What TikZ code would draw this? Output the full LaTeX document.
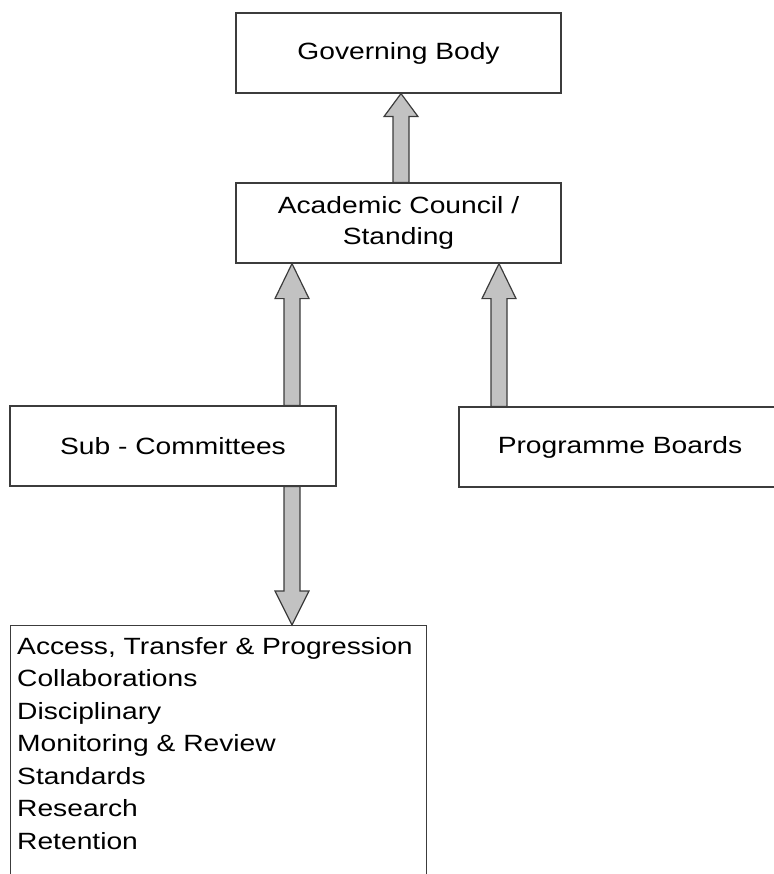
\documentclass[tikz,border=0pt]{standalone}
\usepackage{fontspec}
\setmainfont{Liberation Sans}[FakeStretch=1.2]
\usetikzlibrary{calc}

\definecolor{arrowfill}{RGB}{194,194,194}
\definecolor{edgegray}{RGB}{60,60,60}

% block arrow: from #1 to tip #2, head length #3
\newcommand\blockarrow[3]{%
  \draw [barrow] let \p1 = (#1), \p2 = (#2), \p3 = ($(#2)!#3!(#1)$) in
    (\x1-8pt,\y1) -- (\x1-8pt,\y3) -- (\x1-17pt,\y3) -- (\x2,\y2)
    -- (\x1+17pt,\y3) -- (\x1+8pt,\y3) -- (\x1+8pt,\y1) -- cycle ;
}

\begin{document}
\begin{tikzpicture}[x=1pt, y=-1pt,
  box/.style={draw=edgegray, line width=1.2pt, fill=white, minimum height=80,
    align=center, font=\fontsize{23.5}{31}\selectfont},
  barrow/.style={draw=edgegray, line width=1.2pt, fill=arrowfill, line join=miter}]

\useasboundingbox (0,0) rectangle (773,874) ;

\node [box, minimum width=325] (gov) at (398.5,53) {Governing Body} ;
\node [box, minimum width=325] (acad) at (398.5,223) {Academic Council /\\Standing} ;
\node [box, minimum width=326] (sub) at (173,446) {Sub - Committees} ;
\node [box, minimum width=322] (prog) at (620,447) {Programme Boards} ;
\node [box, minimum width=416, minimum height=300, anchor=north west] (list) at (10,625) {} ;

\node [anchor=north west, align=left, inner sep=0pt,
  font=\fontsize{23.5}{32.5}\selectfont] (items) at (17,637)
  {Access, Transfer \& Progression\\Collaborations\\Disciplinary\\
   Monitoring \& Review\\Standards\\Research\\Retention} ;

% arrow columns
\coordinate (colA) at (292,0) ;
\coordinate (colB) at (499,0) ;
\coordinate (colC) at (401,0) ;

\blockarrow{acad.north -| colC}{gov.south -| colC}{23pt}
\blockarrow{sub.north -| colA}{acad.south -| colA}{35pt}
\blockarrow{prog.north -| colB}{acad.south -| colB}{35pt}
\blockarrow{sub.south -| colA}{list.north -| colA}{34pt}
\end{tikzpicture}
\end{document}
